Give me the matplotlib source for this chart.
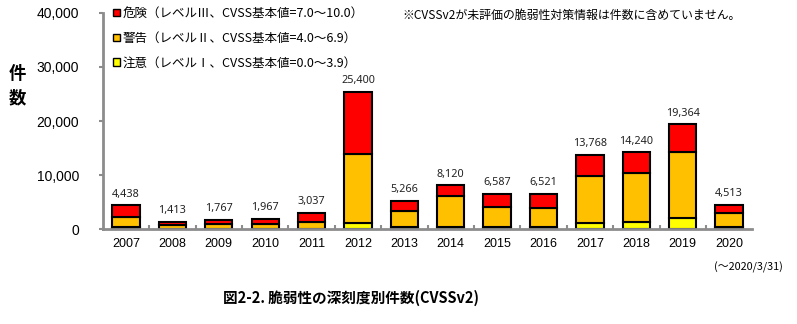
import matplotlib
matplotlib.use("Agg")
import matplotlib.pyplot as plt
from matplotlib.patches import Patch
import numpy as np

plt.rcParams['font.family'] = ['Noto Sans CJK JP', 'DejaVu Sans']

years = ["2007", "2008", "2009", "2010", "2011", "2012", "2013",
         "2014", "2015", "2016", "2017", "2018", "2019", "2020"]
# counts per severity level (CVSS v2 base score)
caution = [350, 80, 100, 100, 100, 1200, 450, 500, 400, 450, 1200, 1400, 2100, 450]
warning = [1950, 700, 850, 850, 1200, 12800, 2950, 5700, 3700, 3450, 8600, 9000, 12150, 2650]
danger = [2138, 633, 817, 1017, 1737, 11400, 1866, 1920, 2487, 2621, 3968, 3840, 5114, 1413]
totals = [4438, 1413, 1767, 1967, 3037, 25400, 5266, 8120, 6587, 6521, 13768, 14240, 19364, 4513]
y_ticks = [0, 10000, 20000, 30000, 40000]

labels = ["危険（レベルⅢ、CVSS基本値=7.0～10.0）",
          "警告（レベルⅡ、CVSS基本値=4.0～6.9）",
          "注意（レベルⅠ、CVSS基本値=0.0～3.9）"]
colors = {"danger": "#FF0000", "warning": "#FFC000", "caution": "#FFFF00"}

fig = plt.figure(figsize=(7.97, 3.24), dpi=100)
ax = fig.add_axes([0.129, 0.292, 0.815, 0.669])

x = np.arange(len(years))
w = 0.59
edge = dict(edgecolor="black", linewidth=1.5)
c = np.array(caution)
wn = np.array(warning)
d = np.array(danger)
ax.bar(x, c, w, color=colors["caution"], **edge)
ax.bar(x, wn, w, bottom=c, color=colors["warning"], **edge)
ax.bar(x, d, w, bottom=c + wn, color=colors["danger"], **edge)

for xi, t in zip(x, totals):
    ax.annotate(f"{t:,}", (xi, t), xytext=(0, 4), textcoords="offset points",
                ha="center", va="bottom", fontsize=7.8, family="Noto Sans",
                color="#222222")

ax.set_xlim(-0.5, len(years) - 0.5)
ax.set_ylim(0, 40000)
ax.set_yticks(y_ticks)
ax.set_yticklabels([f"{v:,}" for v in y_ticks], family="Liberation Sans", fontsize=10)
ax.set_xticks(x)
ax.set_xticklabels(years, family="Liberation Sans", fontsize=9)
ax.set_xticks(np.arange(0.5, len(years) - 1, 1.0), minor=True)

for s in ("top", "right"):
    ax.spines[s].set_visible(False)
for s in ("left", "bottom"):
    ax.spines[s].set_color("#8c8c8c")
    ax.spines[s].set_linewidth(2)
ax.tick_params(axis="y", direction="out", length=3, width=1.5, color="#8c8c8c", pad=14)
ax.tick_params(axis="x", which="major", length=0, pad=6)
ax.tick_params(axis="x", which="minor", direction="in", length=3, width=1.5, color="#8c8c8c")

handles = [Patch(facecolor=colors["danger"], edgecolor="black", linewidth=1),
           Patch(facecolor=colors["warning"], edgecolor="black", linewidth=1),
           Patch(facecolor=colors["caution"], edgecolor="black", linewidth=1)]
fig.legend(handles, labels, loc="upper left", bbox_to_anchor=(0.133, 1.0),
           frameon=False, fontsize=9, handlelength=0.55, handleheight=0.55,
           handletextpad=0.25, labelspacing=0.95, borderaxespad=0.15)

fig.text(0.505, 0.952, "※CVSSv2が未評価の脆弱性対策情報は件数に含めていません。",
         fontsize=8.6, ha="left", va="center")
fig.text(0.022, 0.735, "件\n数", fontsize=12.5, fontweight="bold",
         ha="center", va="center", linespacing=1.45)
fig.text(0.982, 0.176, "(～2020/3/31)", fontsize=7.8, ha="right", va="center")
fig.text(0.44, 0.08, "図2-2. 脆弱性の深刻度別件数(CVSSv2)", fontsize=10.5,
         fontweight="bold", ha="center", va="center")

fig.savefig("out.png", dpi=100)
